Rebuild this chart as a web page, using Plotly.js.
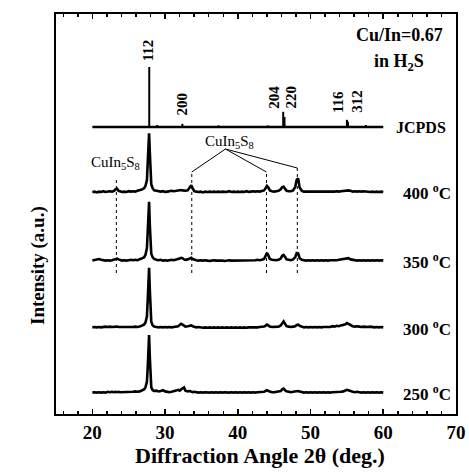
<!DOCTYPE html>
<html>
<head>
<meta charset="utf-8">
<script src="https://cdn.plot.ly/plotly-3.0.1.min.js"></script>
<style>
  html, body { margin: 0; padding: 0; background: #fff; }
  #chart { width: 469px; height: 472px; }
</style>
</head>
<body>
<div id="chart"></div>
<script>
// Diffraction angle grid (deg), shared by the four measured patterns
const twoTheta = [
  20.0,20.3,20.6,20.9,21.2,21.5,21.8,22.1,22.4,22.7,
  23.0,23.2,23.4,23.6,23.8,
  24.1,24.4,24.7,25.0,25.3,25.6,25.9,26.2,26.5,26.8,27.1,
  27.3,27.5,27.6,27.7,27.8,27.9,28.0,28.1,28.3,28.5,
  28.8,29.1,29.4,29.7,30.0,30.3,30.6,30.9,31.2,31.5,31.8,
  32.0,32.2,32.4,32.6,32.8,
  33.1,33.4,33.6,33.8,34.0,
  34.3,34.6,34.9,35.2,35.5,35.8,36.1,36.4,36.7,37.0,
  37.3,37.6,37.9,38.2,38.5,38.8,39.1,39.4,39.7,40.0,
  40.3,40.6,40.9,41.2,41.5,41.8,42.1,42.4,42.7,43.0,
  43.3,43.6,43.8,44.0,44.2,44.4,44.7,
  45.0,45.3,45.6,45.9,
  46.1,46.3,46.5,46.7,
  47.0,47.3,47.6,47.9,
  48.1,48.3,48.5,48.8,
  49.1,49.4,49.7,50.0,50.3,50.6,50.9,51.2,51.5,51.8,
  52.1,52.4,52.7,53.0,53.3,53.6,53.9,54.2,54.5,54.8,
  55.0,55.2,55.5,55.8,56.1,56.4,56.7,57.0,57.3,57.6,
  57.9,58.2,58.5,58.8,59.1,59.4,59.7,60.0
];

// Intensities (a.u.) above each pattern's own baseline
const int400 = [
  0.1,0.2,0.0,0.2,0.1,0.3,0.1,0.2,0.3,0.2,
  0.4,0.8,0.9,0.4,0.2,
  0.1,0.2,0.1,0.3,0.2,0.3,0.2,0.4,0.5,0.7,1.0,
  1.6,3.0,6.5,11.5,14.8,10.0,4.5,2.0,1.0,0.5,
  0.4,0.3,0.2,0.3,0.1,0.2,0.3,0.4,0.3,0.4,0.5,
  0.5,0.6,0.5,0.4,0.4,
  0.5,1.2,1.8,1.0,0.3,
  0.2,0.1,0.2,0.0,0.2,0.1,0.2,0.1,0.2,0.1,
  0.2,0.1,0.2,0.2,0.1,0.3,0.1,0.2,0.1,0.2,
  0.1,0.2,0.1,0.3,0.1,0.2,0.3,0.2,0.3,0.2,
  0.3,0.5,1.0,1.6,1.2,0.5,0.3,
  0.2,0.3,0.4,0.8,
  1.3,1.4,0.9,0.4,
  0.3,0.3,0.5,1.4,
  3.2,3.5,1.2,0.4,
  0.2,0.2,0.1,0.2,0.1,0.2,0.1,0.2,0.1,0.2,
  0.1,0.2,0.1,0.2,0.2,0.3,0.2,0.3,0.4,0.5,
  0.6,0.5,0.4,0.2,0.3,0.2,0.3,0.2,0.3,0.2,
  0.2,0.1,0.2,0.1,0.2,0.1,0.2,0.1
];
const int350 = [
  0.1,0.2,0.4,0.5,0.3,0.2,0.1,0.2,0.1,0.2,
  0.3,0.5,0.6,0.4,0.2,
  0.1,0.2,0.1,0.2,0.3,0.2,0.3,0.2,0.4,0.6,0.9,
  1.5,3.2,7.0,12.0,14.8,9.0,3.8,1.8,0.9,0.5,
  0.3,0.2,0.3,0.1,0.2,0.1,0.2,0.3,0.2,0.3,0.4,
  0.6,0.8,0.7,0.4,0.3,
  0.4,0.7,0.8,0.5,0.3,
  0.2,0.1,0.2,0.1,0.2,0.1,0.0,0.1,0.2,0.1,
  0.1,0.2,0.1,0.0,0.1,0.2,0.1,0.1,0.2,0.1,
  0.2,0.1,0.2,0.1,0.2,0.2,0.1,0.2,0.3,0.2,
  0.3,0.5,1.2,2.0,1.4,0.5,0.3,
  0.2,0.2,0.3,0.6,
  1.3,1.5,1.0,0.4,
  0.3,0.2,0.4,1.0,
  2.0,1.9,0.7,0.3,
  0.2,0.1,0.2,0.1,0.2,0.1,0.2,0.1,0.2,0.1,
  0.2,0.1,0.2,0.2,0.1,0.2,0.3,0.4,0.5,0.6,
  0.8,0.7,0.4,0.3,0.2,0.1,0.2,0.1,0.2,0.1,
  0.2,0.1,0.2,0.1,0.2,0.1,0.2,0.1
];
const int300 = [
  0.1,0.2,0.1,0.2,0.1,0.2,0.3,0.2,0.3,0.2,
  0.3,0.4,0.3,0.2,0.2,
  0.1,0.2,0.1,0.2,0.1,0.2,0.3,0.2,0.3,0.5,0.8,
  1.3,2.8,6.5,12.5,15.0,9.5,3.8,1.5,0.6,0.3,
  0.2,0.1,0.2,0.1,0.2,0.1,0.2,0.1,0.2,0.3,0.4,
  0.7,1.0,0.8,0.5,0.3,
  0.4,0.5,0.6,0.4,0.2,
  0.1,0.2,0.1,0.0,0.1,0.0,0.1,0.0,0.1,0.0,
  0.1,0.0,0.1,0.0,0.1,0.0,0.1,0.0,0.1,0.0,
  0.1,0.0,0.1,0.0,0.1,0.1,0.0,0.1,0.1,0.2,
  0.2,0.3,0.5,0.8,0.6,0.3,0.2,
  0.2,0.2,0.3,0.6,
  1.3,1.6,1.0,0.4,
  0.3,0.2,0.3,0.4,
  0.7,0.8,0.5,0.2,
  0.1,0.2,0.1,0.2,0.1,0.2,0.1,0.2,0.1,0.2,
  0.2,0.3,0.2,0.4,0.3,0.5,0.4,0.6,0.7,0.9,
  1.2,1.0,0.6,0.4,0.3,0.4,0.3,0.2,0.3,0.2,
  0.2,0.3,0.2,0.1,0.2,0.1,0.2,0.1
];
const int250 = [
  0.1,0.2,0.1,0.2,0.1,0.2,0.1,0.3,0.2,0.3,
  0.2,0.3,0.2,0.3,0.2,
  0.2,0.3,0.2,0.3,0.2,0.3,0.4,0.3,0.4,0.6,0.9,
  1.4,2.8,6.0,11.8,14.5,9.0,3.5,1.4,0.7,0.5,
  0.6,0.4,0.5,0.7,0.4,0.3,0.2,0.3,0.4,0.6,0.8,
  0.6,0.9,1.2,1.4,0.6,
  0.4,0.5,0.3,0.2,0.3,
  0.2,0.1,0.2,0.1,0.2,0.1,0.1,0.2,0.1,0.2,
  0.1,0.2,0.1,0.2,0.1,0.1,0.2,0.1,0.2,0.1,
  0.2,0.1,0.2,0.1,0.2,0.1,0.2,0.1,0.2,0.2,
  0.2,0.3,0.5,0.7,0.5,0.3,0.2,
  0.2,0.3,0.3,0.5,
  0.9,1.1,0.7,0.4,
  0.3,0.2,0.3,0.4,
  0.6,0.5,0.4,0.2,
  0.1,0.2,0.1,0.2,0.1,0.2,0.1,0.2,0.1,0.2,
  0.1,0.2,0.1,0.2,0.2,0.3,0.2,0.3,0.4,0.6,
  0.8,0.7,0.4,0.3,0.2,0.3,0.2,0.1,0.2,0.1,
  0.2,0.1,0.2,0.1,0.2,0.1,0.2,0.1
];

const tempLabels = ['400', '350', '300', '250'];
const patterns = [int400, int350, int300, int250];

// JCPDS reference pattern for CuInS2 (stick positions and relative heights)
const jcpdsPos = [27.82, 28.92, 32.38, 37.35, 44.12, 46.24, 46.42, 55.0, 55.15, 57.6];
const jcpdsInt = [15.0, 0.5, 0.8, 0.4, 0.4, 3.8, 2.5, 1.8, 1.3, 0.5];
const jcpdsRange = [20, 60];
const hklLabels = ['112', '200', '204', '220', '116', '312'];

// CuIn5S8 secondary-phase reflections marked with dotted guides
const cuIn5S8Peaks = [23.3, 33.67, 43.94, 48.18];

// ---- layout constants (vertical stacking of patterns, label placement) ----
const baselines = [55.4, 38.25, 21.55, 5.25];
const jcpdsBase = 71.75;
const hklX = [27.7, 32.3, 44.86, 47.25, 53.7, 56.4];
const hklY = [91.0, 77.6, 79.1, 79.25, 78.1, 78.1];
const guideTop = [59.25, 60.5, 60.5, 61.5];
const guideBottom = 35.25;
const calloutAnchor = [38.3, 66.25];

const serif = '"Liberation Serif", "Times New Roman", Times, serif';
const traces = [];

patterns.forEach((p, k) => {
  traces.push({
    x: twoTheta,
    y: p.map(v => v + baselines[k]),
    type: 'scatter', mode: 'lines',
    line: { color: '#000', width: 2.6 },
    hoverinfo: 'skip', showlegend: false
  });
});

// JCPDS baseline and sticks
traces.push({
  x: jcpdsRange, y: [jcpdsBase, jcpdsBase],
  type: 'scatter', mode: 'lines',
  line: { color: '#000', width: 2.4 }, showlegend: false, hoverinfo: 'skip'
});
const sx = [], sy = [];
jcpdsPos.forEach((p, i) => {
  sx.push(p, p, null);
  sy.push(jcpdsBase, jcpdsBase + jcpdsInt[i], null);
});
traces.push({
  x: sx, y: sy, type: 'scatter', mode: 'lines',
  line: { color: '#000', width: 2 }, showlegend: false, hoverinfo: 'skip'
});

const shapes = [];
cuIn5S8Peaks.forEach((p, i) => {
  shapes.push({
    type: 'line', xref: 'x', yref: 'y',
    x0: p, x1: p, y0: guideBottom, y1: guideTop[i],
    line: { color: '#000', width: 1, dash: 'dot' }
  });
  if (i > 0) {
    shapes.push({
      type: 'line', xref: 'x', yref: 'y',
      x0: calloutAnchor[0], y0: calloutAnchor[1], x1: p, y1: guideTop[i],
      line: { color: '#000', width: 1 }
    });
  }
});

const annotations = [];
hklLabels.forEach((t, i) => {
  annotations.push({
    x: hklX[i], y: hklY[i], xref: 'x', yref: 'y', text: t,
    textangle: -90, showarrow: false,
    font: { family: serif, size: 15, color: '#000', weight: 'bold' }
  });
});
tempLabels.forEach((t, k) => {
  annotations.push({
    x: 62.4, y: baselines[k], xref: 'x', yref: 'y', xanchor: 'left', yanchor: 'middle',
    text: t + ' <sup>o</sup>C', showarrow: false,
    font: { family: serif, size: 17, color: '#000', weight: 'bold' }
  });
});
annotations.push(
  { x: 61.5, y: jcpdsBase, xref: 'x', yref: 'y', xanchor: 'left', yanchor: 'middle',
    text: 'JCPDS', showarrow: false,
    font: { family: serif, size: 16, color: '#000', weight: 'bold' } },
  { x: 62.2, y: 94.75, xref: 'x', yref: 'y', text: 'Cu/In=0.67', showarrow: false,
    font: { family: serif, size: 18, color: '#000', weight: 'bold' } },
  { x: 62.2, y: 88.0, xref: 'x', yref: 'y', text: 'in H<sub>2</sub>S', showarrow: false,
    font: { family: serif, size: 18, color: '#000', weight: 'bold' } },
  { x: 23.2, y: 62.75, xref: 'x', yref: 'y', text: 'CuIn<sub>5</sub>S<sub>8</sub>', showarrow: false,
    font: { family: serif, size: 15, color: '#000' } },
  { x: 38.9, y: 68.0, xref: 'x', yref: 'y', text: 'CuIn<sub>5</sub>S<sub>8</sub>', showarrow: false,
    font: { family: serif, size: 15, color: '#000' } },
  { x: -0.0775, y: 0.37, xref: 'paper', yref: 'paper', text: 'Intensity (a.u.)',
    textangle: -90, showarrow: false,
    font: { family: serif, size: 19, color: '#000', weight: 'bold' } },
  { x: 0.51, y: -0.1025, xref: 'paper', yref: 'paper', text: 'Diffraction Angle 2θ (deg.)',
    showarrow: false, yanchor: 'middle',
    font: { family: serif, size: 22, color: '#000', weight: 'bold' } }
);

const layout = {
  width: 469, height: 472,
  margin: { l: 56, r: 13, t: 14, b: 58 },
  paper_bgcolor: '#fff', plot_bgcolor: '#fff',
  showlegend: false,
  font: { family: serif, color: '#000' },
  xaxis: {
    range: [15, 70], tick0: 0, dtick: 10,
    ticks: 'inside', ticklen: 5, tickwidth: 1.6, tickcolor: '#000',
    minor: { dtick: 2, ticks: 'inside', ticklen: 3, tickwidth: 1.4, tickcolor: '#000', showgrid: false },
    showline: true, linewidth: 2, linecolor: '#000', mirror: 'allticks',
    showgrid: false, zeroline: false,
    tickfont: { family: serif, size: 19, color: '#000', weight: 'bold' }
  },
  yaxis: {
    range: [0, 100], showticklabels: false, ticks: '',
    showline: true, linewidth: 2, linecolor: '#000', mirror: true,
    showgrid: false, zeroline: false
  },
  shapes: shapes,
  annotations: annotations
};

Plotly.newPlot('chart', traces, layout, { staticPlot: true, displayModeBar: false });
</script>
</body>
</html>
